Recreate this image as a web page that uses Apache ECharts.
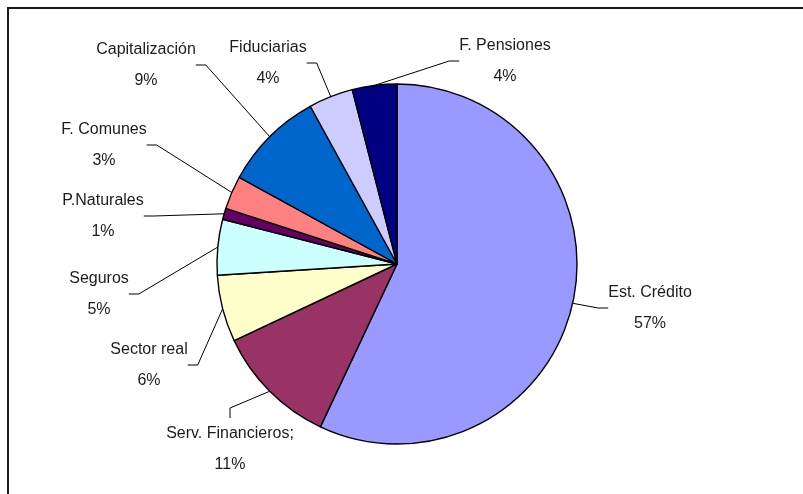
<!DOCTYPE html>
<html>
<head>
<meta charset="utf-8">
<script src="https://cdn.jsdelivr.net/npm/echarts@6/dist/echarts.min.js"></script>
<style>
  html, body { margin: 0; padding: 0; background: #fff; }
  #chart { width: 803px; height: 494px; }
</style>
</head>
<body>
<div id="chart"></div>
<script>
// Portfolio share by type of institution (percent)
const categories = [
  'Est. Crédito', 'Serv. Financieros;', 'Sector real', 'Seguros',
  'P.Naturales', 'F. Comunes', 'Capitalización', 'Fiduciarias', 'F. Pensiones'
];
const shares = [57, 11, 6, 5, 1, 3, 9, 4, 4];

// Classic office palette, one colour per slice
const sliceColors = [
  '#9999FF', '#993366', '#FFFFCC', '#CCFFFF',
  '#660066', '#FF8080', '#0066CC', '#CCCCFF', '#000080'
];

// Where each two-line label block is centred
const labelSpots = [
  [650, 308], [230, 449], [149, 365], [99, 294],
  [103, 216], [104, 145], [146, 65], [268, 63], [505, 61]
];

const chart = echarts.init(document.getElementById('chart'), null, { renderer: 'canvas' });

const seriesData = categories.map((name, i) => ({
  name: name,
  value: shares[i],
  itemStyle: { color: sliceColors[i] }
}));

chart.setOption({
  animation: false,
  backgroundColor: '#ffffff',
  graphic: [{
    type: 'rect',
    shape: { x: 8, y: 8, width: 820, height: 520 },
    style: { fill: 'none', stroke: '#1a1a1a', lineWidth: 2 },
    silent: true
  }],
  series: [{
    type: 'pie',
    center: [397, 264],
    radius: 180,
    startAngle: 90,
    clockwise: true,
    avoidLabelOverlap: false,
    data: seriesData,
    itemStyle: { borderColor: '#000', borderWidth: 1.4 },
    label: {
      show: true,
      position: 'outside',
      formatter: '{b}\n{c}%',
      fontFamily: "'Liberation Sans', Arial, sans-serif",
      fontSize: 16,
      lineHeight: 31,
      color: '#1c1c1c',
      align: 'center'
    },
    labelLine: {
      show: true,
      length: 10,
      length2: 10,
      lineStyle: { color: '#000', width: 1 }
    },
    labelLayout: function (params) {
      const p = labelSpots[params.dataIndex];
      return { x: p[0], y: p[1], align: 'center', verticalAlign: 'middle' };
    },
    emphasis: { disabled: true }
  }]
});
</script>
</body>
</html>
